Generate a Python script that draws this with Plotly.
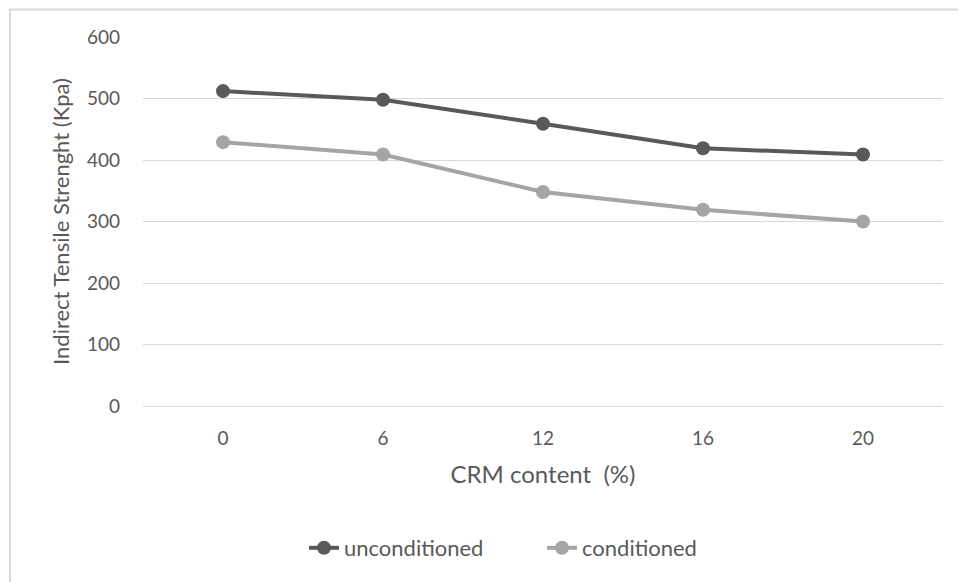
import plotly.graph_objects as go

categories = ["0", "6", "12", "16", "20"]
unconditioned = [512, 498, 459, 419, 409]
conditioned = [429, 409, 348, 319, 300]
y_ticks = [0, 100, 200, 300, 400, 500, 600]

FONT = "Lato, 'Open Sans', sans-serif"
TXT = "#595959"

# page body has an 8px offset, so the plot box is placed 8px up/left
L, T, PW, PH = 135, 29, 800, 369

fig = go.Figure()
fig.add_trace(go.Scatter(
    x=categories, y=unconditioned, name="unconditioned", mode="lines+markers",
    line=dict(color="#595959", width=4), marker=dict(size=14, color="#595959"),
))
fig.add_trace(go.Scatter(
    x=categories, y=conditioned, name="conditioned", mode="lines+markers",
    line=dict(color="#A5A5A5", width=4), marker=dict(size=14, color="#A5A5A5"),
))

fig.update_layout(
    width=966, height=582,
    margin=dict(l=L, r=966 - L - PW, t=T, b=582 - T - PH),
    paper_bgcolor="white", plot_bgcolor="white",
    font=dict(family=FONT, color=TXT, size=19),
    showlegend=True,
    legend=dict(orientation="h", x=(304 - 8 - L) / PW, xanchor="left",
                y=(T + PH - 540) / PH, yanchor="middle",
                entrywidth=193, entrywidthmode="pixels",
                font=dict(size=22, color=TXT), traceorder="normal"),
    xaxis=dict(
        type="category", range=[-0.5, 4.5], showgrid=False, showline=False, zeroline=False,
        ticks="", ticklabelstandoff=19,
        title=dict(text="CRM content\u00a0\u00a0(%)", font=dict(size=24, color=TXT), standoff=18),
        tickfont=dict(size=19, color=TXT),
    ),
    yaxis=dict(
        range=[0, 600], tickvals=y_ticks, showgrid=True, gridcolor="#D9D9D9", gridwidth=1,
        zeroline=True, zerolinecolor="#D9D9D9", zerolinewidth=1, showline=False,
        ticks="", ticklabelstandoff=22,
        title=dict(text="Indirect Tensile Strenght (Kpa)", font=dict(size=22, color=TXT), standoff=11),
        tickfont=dict(size=19, color=TXT),
    ),
    shapes=[dict(type="rect", xref="paper", yref="paper",
                 x0=(2 - L) / PW, x1=(990 - L) / PW,
                 y0=(T + PH - 600) / PH, y1=1 + (T - 1.5) / PH,
                 line=dict(color="#D9D9D9", width=2), layer="below")],
)

fig.write_html("out.html")
